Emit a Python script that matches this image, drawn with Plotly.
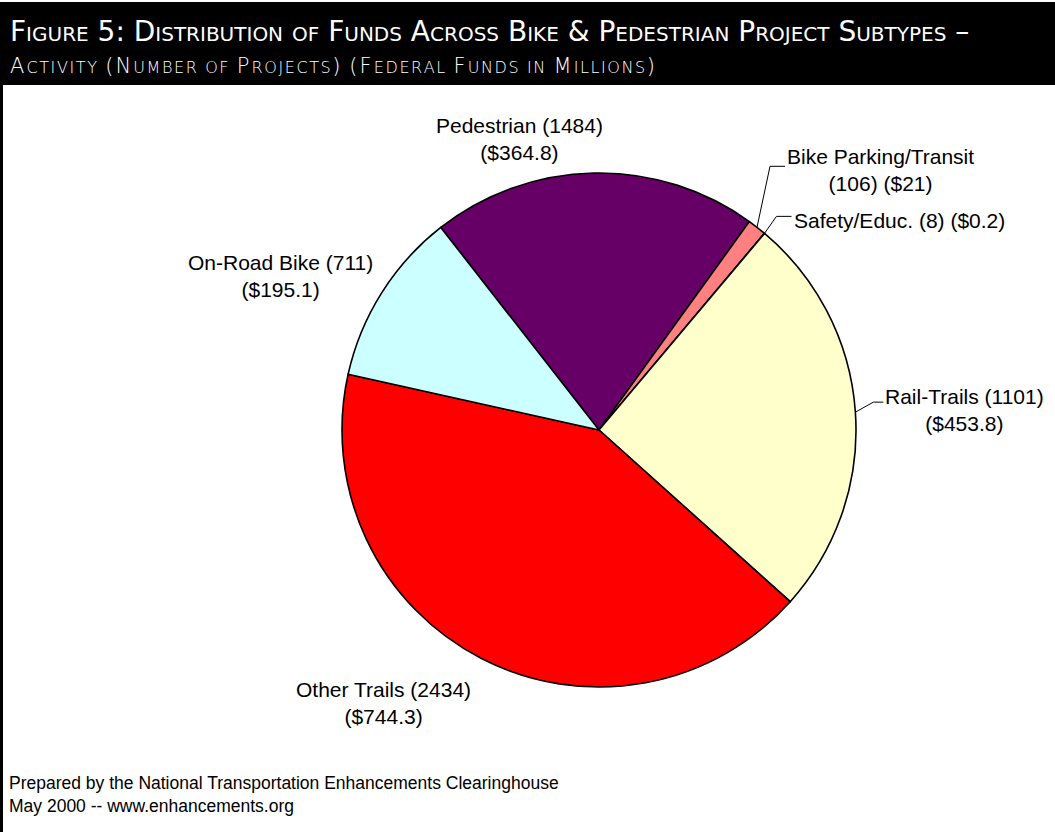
import math
import plotly.graph_objects as go

# ---- data ----
subtypes = ["Pedestrian", "Bike Parking/Transit", "Safety/Educ.", "Rail-Trails", "Other Trails", "On-Road Bike"]
projects = [1484, 106, 8, 1101, 2434, 711]
funds = [364.8, 21, 0.2, 453.8, 744.3, 195.1]
colors = ["#660066", "#FF8080", "#FFFFCC", "#FFFFCC", "#FF0000", "#CCFFFF"]

title_line1 = "Figure 5: Distribution of Funds Across Bike & Pedestrian Project Subtypes \u2013"
title_line2 = "Activity (Number of Projects) (Federal Funds in Millions)"
footer1 = "Prepared by the National Transportation Enhancements Clearinghouse"
footer2 = "May 2000 -- www.enhancements.org"

# ---- layout constants (pixels) ----
W, H = 1055, 832
CX, CY, R = 599, 430, 257
ROT = -38.0

def small_caps(text, big, small, spacing=""):
    out = []
    cur_size = None
    buf = ""
    for ch in text:
        size = small if ch.islower() else big
        c = ch.upper() + (spacing if ch != " " else "")
        if size != cur_size and buf:
            out.append('<span style="font-size:%gpx">%s</span>' % (cur_size, buf.replace("&", "&amp;")))
            buf = ""
        cur_size = size
        buf += c
    if buf:
        out.append('<span style="font-size:%gpx">%s</span>' % (cur_size, buf.replace("&", "&amp;")))
    return "".join(out)

fig = go.Figure()

fig.add_trace(go.Pie(
    labels=subtypes, values=funds, sort=False, direction="clockwise", rotation=ROT,
    marker=dict(colors=colors, line=dict(color="black", width=1.6)),
    textinfo="none", hoverinfo="label+value", showlegend=False,
    domain=dict(x=[(CX - R) / W, (CX + R) / W], y=[(H - CY - R) / H, (H - CY + R) / H]),
))

# mid angles of slices (clockwise from 12 o'clock)
total = sum(funds)
mid = {}
acc = ROT
for name, v in zip(subtypes, funds):
    span = v / total * 360
    mid[name] = acc + span / 2
    acc += span

def edge(name):
    a = math.radians(mid[name])
    return CX + R * math.sin(a), CY - R * math.cos(a)

# leader lines: (slice, elbow offset, end offset)
leaders = {
    "Bike Parking/Transit": ((13, -61), (28, -61)),
    "Safety/Educ.": ((12, -17), (27, -17)),
    "Rail-Trails": ((18, -10), (28, -10)),
}
for name, (e1, e2) in leaders.items():
    x0, y0 = edge(name)
    fig.add_trace(go.Scatter(
        x=[x0, x0 + e1[0], x0 + e2[0]], y=[y0, y0 + e1[1], y0 + e2[1]],
        mode="lines", line=dict(color="black", width=1), hoverinfo="skip", showlegend=False,
    ))

def fmt(v):
    return ("$%g" % v)

label_pos = {
    "Pedestrian": (519, 139),
    "Bike Parking/Transit": (880, 170),
    "Safety/Educ.": (899, 220),
    "Rail-Trails": (964, 410),
    "Other Trails": (383, 703),
    "On-Road Bike": (280, 276),
}
annotations = []
for name, p, f in zip(subtypes, projects, funds):
    x, y = label_pos[name]
    if name == "Safety/Educ.":
        txt = "%s (%d) (%s)" % (name, p, fmt(f))
    elif name == "Bike Parking/Transit":
        txt = "%s<br>(%d) (%s)" % (name, p, fmt(f))
    else:
        txt = "%s (%d)<br>(%s)" % (name, p, fmt(f))
    annotations.append(dict(x=x, y=y, xref="x", yref="y", text=txt, showarrow=False,
                            xanchor="center", yanchor="middle", align="center",
                            font=dict(family="Liberation Sans, Arial", size=21, color="black")))

annotations.append(dict(x=8, y=31, xref="x", yref="y", text=small_caps(title_line1, 28, 20),
                        showarrow=False, xanchor="left", yanchor="middle",
                        font=dict(family="DejaVu Sans", size=28, color="white")))
annotations.append(dict(x=8, y=66, xref="x", yref="y", text=small_caps(title_line2, 21, 16, "\u200a"),
                        showarrow=False, xanchor="left", yanchor="middle",
                        font=dict(family="DejaVu Sans", size=21, color="white", weight=300)))
annotations.append(dict(x=7, y=794, xref="x", yref="y", text=footer1 + "<br>" + footer2,
                        showarrow=False, xanchor="left", yanchor="middle", align="left",
                        font=dict(family="Liberation Sans, Arial", size=17.5, color="black")))

shapes = [
    dict(type="rect", xref="x", yref="y", x0=0, x1=W, y0=2, y1=85,
         fillcolor="black", line=dict(width=0), layer="below"),
    dict(type="line", xref="x", yref="y", x0=1.5, x1=1.5, y0=85, y1=H,
         line=dict(color="black", width=3)),
]

fig.update_layout(
    width=W, height=H, margin=dict(l=0, r=0, t=0, b=0),
    paper_bgcolor="white", plot_bgcolor="rgba(0,0,0,0)",
    xaxis=dict(range=[0, W], visible=False, fixedrange=True, domain=[0, 1]),
    yaxis=dict(range=[H, 0], visible=False, fixedrange=True, domain=[0, 1]),
    annotations=annotations, shapes=shapes, showlegend=False,
)

fig.write_html("out.html")
